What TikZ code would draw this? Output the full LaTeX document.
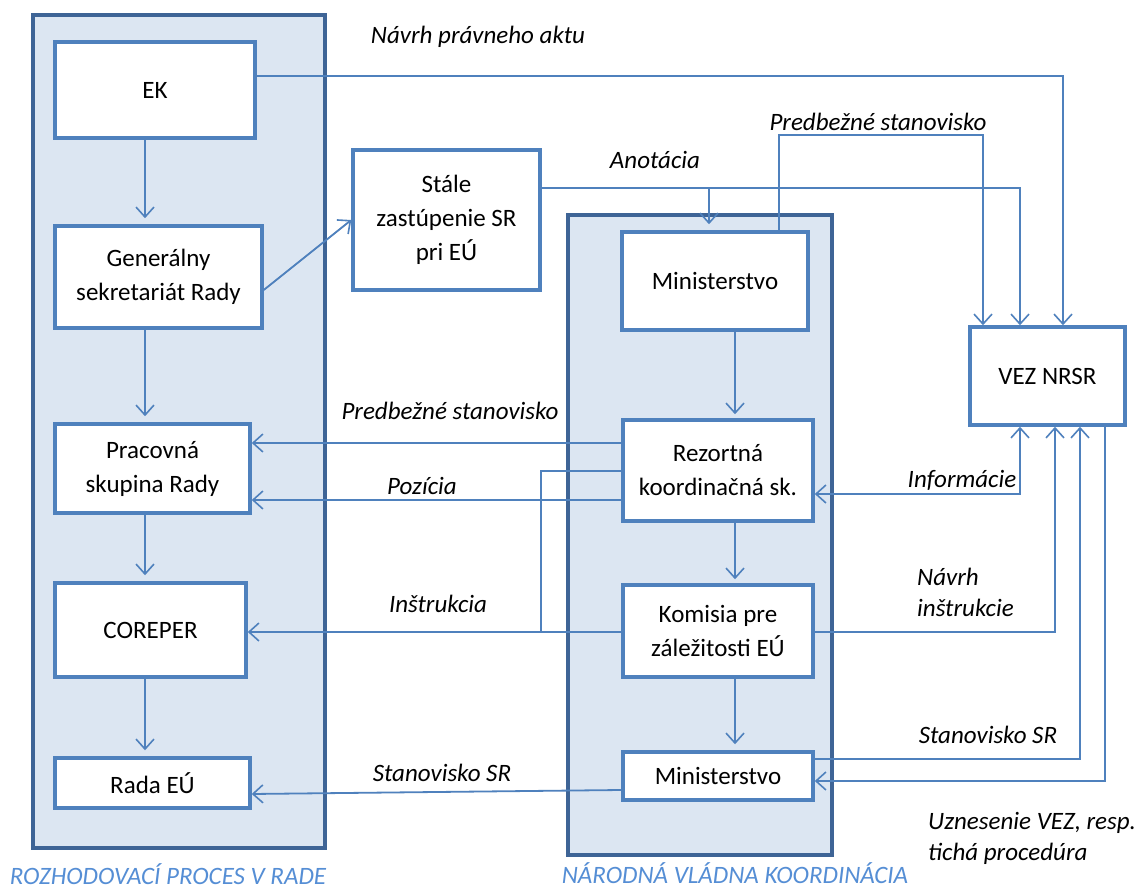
\documentclass[tikz,border=0pt]{standalone}
\usepackage{fontspec}
\setmainfont{Carlito}
\usetikzlibrary{arrows.meta,calc}
\definecolor{nodeblue}{HTML}{4F81BD}
\definecolor{contfill}{HTML}{DCE6F2}
\definecolor{contline}{HTML}{3E6496}
\definecolor{lblblue}{HTML}{558ED5}
\begin{document}
\begin{tikzpicture}[x=1pt,y=-1pt,
 box/.style={draw=nodeblue, line width=3.5pt, fill=white, inner sep=0pt, align=center, font=\fontsize{25}{34}\selectfont},
 cont/.style={draw=contline, line width=4pt, fill=contfill, inner sep=0pt},
 conn/.style={draw=nodeblue, line width=1.8pt},
 arr/.style={conn, -{Straight Barb[length=10pt,width=18pt,line width=1.6pt]}},
 darr/.style={conn, {Straight Barb[length=10pt,width=18pt,line width=1.6pt]}-{Straight Barb[length=10pt,width=18pt,line width=1.6pt]}},
 lbl/.style={font=\fontsize{25}{31}\selectfont\itshape, inner sep=0pt, align=left},
 clbl/.style={lbl, text=lblblue}]
\useasboundingbox (0,0) rectangle (1141,890);
\fill[white] (0,0) rectangle (1141,890);

% containers
\node[cont, minimum width=292pt, minimum height=833pt] (leftc) at (179,431.5) {};
\node[cont, minimum width=264pt, minimum height=640pt] (midc) at (700,535) {};

% nodes
\node[box, minimum width=200pt, minimum height=96pt] (ek) at (155,90) {EK};
\node[box, minimum width=207pt, minimum height=102pt] (gsr) at (158.5,277) {Generálny\\sekretariát Rady};
\node[box, minimum width=195pt, minimum height=89pt] (prac) at (152.5,468.5) {Pracovná\\skupina Rady};
\node[box, minimum width=191pt, minimum height=94pt] (cor) at (150.5,630) {COREPER};
\node[box, minimum width=195pt, minimum height=50pt] (rada) at (152.5,783) {Rada EÚ};
\node[box, minimum width=187pt, minimum height=140pt] (stale) at (446.5,220) {Stále\\zastúpenie SR\\pri EÚ};
\node[box, minimum width=186pt, minimum height=98pt] (min1) at (715,281) {Ministerstvo};
\node[box, minimum width=190pt, minimum height=101pt] (rez) at (718,470.5) {Rezortná\\koordinačná sk.};
\node[box, minimum width=190pt, minimum height=92pt] (kom) at (718,631) {Komisia pre\\záležitosti EÚ};
\node[box, minimum width=190pt, minimum height=48pt] (mb) at (718,776) {Ministerstvo};
\node[box, minimum width=155pt, minimum height=98pt] (vez) at (1047.5,376) {VEZ NRSR};

% left chain
\draw[arr, shorten >=6pt] (ek.south -| 145,0) -- (gsr.north -| 145,0);
\draw[arr, shorten >=6pt] (gsr.south -| 145,0) -- (prac.north -| 145,0);
\draw[arr, shorten >=6pt] (prac.south -| 145,0) -- (cor.north -| 145,0);
\draw[arr, shorten >=6pt] (cor.south -| 145,0) -- (rada.north -| 145,0);
\draw[arr] (gsr.east |- 0,290) -- (stale.west |- 0,220);

% middle chain
\draw[arr, shorten >=4pt] (min1.south -| 735,0) -- (rez.north -| 735,0);
\draw[arr, shorten >=4pt] (rez.south -| 735,0) -- (kom.north -| 735,0);
\draw[arr, shorten >=6pt] (kom.south -| 735,0) -- (mb.north -| 735,0);

% top connectors
\draw[arr] (ek.east |- 0,76) -| (vez.north -| 1063,0);
\coordinate (anobr) at (709,188);
\draw[arr] (stale.east |- 0,188) -| (vez.north -| 1020,0);
\draw[arr, shorten >=6pt] (anobr) -- (min1.north -| 709,0);
\coordinate (pbtop) at (983,135);
\draw[arr] (min1.north -| 779,0) |- (pbtop) -- (vez.north -| 983,0);

% middle to left
\draw[arr] (rez.west |- 0,443) -- (prac.east |- 0,443);
\draw[arr] (rez.west |- 0,500) -- (prac.east |- 0,500);
\coordinate (brk) at (541,632);
\draw[conn] (rez.west |- 0,471) -| (brk);
\draw[arr] (kom.west |- 0,632) -- (cor.east |- 0,632);
\draw[arr] (mb.west |- 0,790) -- (rada.east |- 0,794);

% right connectors
\draw[darr] (rez.east |- 0,494) -| (vez.south -| 1020,0);
\draw[arr] (kom.east |- 0,632) -| (vez.south -| 1055,0);
\draw[arr] (mb.east |- 0,759) -| (vez.south -| 1080,0);
\draw[arr] (vez.south -| 1105,0) |- (mb.east |- 0,781);

% labels
\node[lbl] (l1) at (478,37) {Návrh právneho aktu};
\node[lbl] (l2) at (878,122) {Predbežné stanovisko};
\node[lbl] (l3) at (655,160) {Anotácia};
\node[lbl] (l4) at (450,411) {Predbežné stanovisko};
\node[lbl] (l5) at (422,486) {Pozícia};
\node[lbl] (l6) at (438,604) {Inštrukcia};
\node[lbl] (l7) at (442,773) {Stanovisko SR};
\node[lbl] (l8) at (962,480) {Informácie};
\node[lbl, anchor=west] (l9) at (917,592) {Návrh\\inštrukcie};
\node[lbl] (l10) at (988,735) {Stanovisko SR};
\node[lbl, anchor=west] (l11) at (928,838) {Uznesenie VEZ, resp.\\tichá procedúra};
\node[clbl] (c1) at (168,874) {ROZHODOVACÍ PROCES V RADE};
\node[clbl] (c2) at (735,873) {NÁRODNÁ VLÁDNA KOORDINÁCIA};
\end{tikzpicture}
\end{document}
